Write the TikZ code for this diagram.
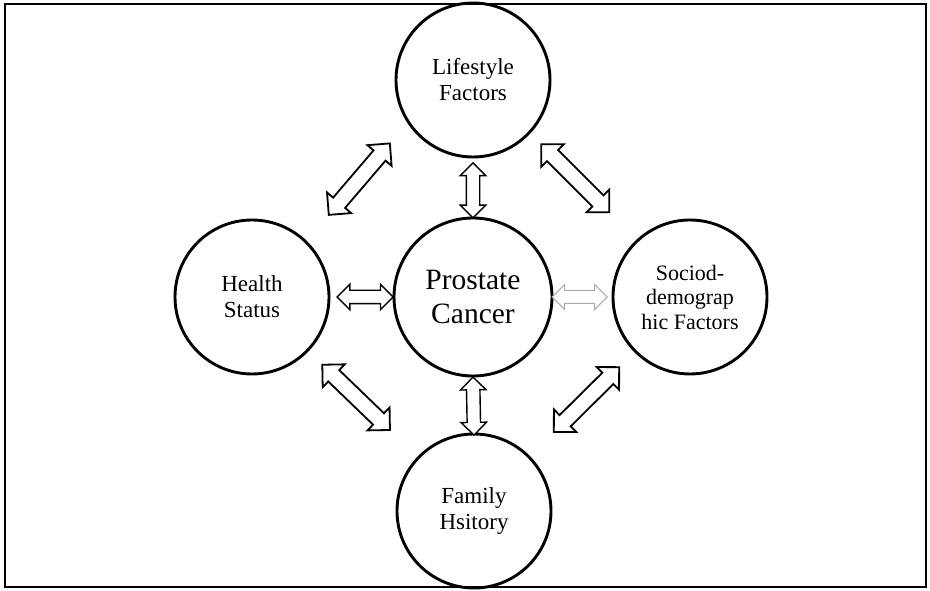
\documentclass[tikz,border=0pt]{standalone}
\usepackage{fontspec}
\setmainfont{Liberation Serif}
\usetikzlibrary{shapes.arrows,calc}
\begin{document}
\begin{tikzpicture}[x=1pt,y=1pt,
  factor/.style={circle,draw,line width=2.9pt,minimum size=154pt,inner sep=0pt,align=center,
    font=\fontsize{23}{26}\selectfont},
  dblarrow/.style={double arrow,draw,fill=white,inner sep=0pt,inner ysep=6pt,
    double arrow head extend=6pt,double arrow tip angle=90,minimum width=1pt,line width=1.4pt},
  diagarrow/.style={dblarrow,inner ysep=7pt,double arrow head extend=8pt,line width=1.8pt}]
\useasboundingbox (0,0) rectangle (930,591);
\node[draw,line width=1.4pt,minimum width=921pt,minimum height=583pt,inner sep=0pt] (frame) at (465.5,295.5) {};

\node[factor] (life) at (473,511) {Lifestyle\\Factors};
\node[factor,minimum size=158pt,font=\fontsize{29.5}{34}\selectfont] (prost) at (473,294) {Prostate\\Cancer};
\node[factor] (health) at (252,294) {Health\\Status};
\node[factor,font=\fontsize{22}{24.5}\selectfont] (socio) at (690,294) {Sociod-\\demograp\\hic Factors};
\node[factor] (family) at (474,80) {Family\\Hsitory};

% vertical and horizontal arrows
\path (life.south) -- (prost.north) node[pos=0.55,sloped,dblarrow,minimum height=55pt] (a-lp) {};
\path (prost.south) -- (family.north) node[pos=0.52,sloped,dblarrow,minimum height=58pt] (a-pf) {};
\path (health.east) -- (prost.west) node[pos=0.56,sloped,dblarrow,minimum height=56pt] (a-hp) {};
\path (prost.east) -- (socio.west) node[pos=0.45,sloped,dblarrow,draw=gray!65,line width=1pt,minimum height=55pt] (a-ps) {};

% diagonal arrows
\path (health) -- (life) node[pos=0.528,sloped,yshift=8.9pt,rotate=5,diagarrow,minimum height=94pt] (a-hl) {};
\path (life) -- (socio) node[pos=0.422,sloped,yshift=2.8pt,diagarrow,minimum height=96pt] (a-ls) {};
\path (health) -- (family) node[pos=0.437,sloped,diagarrow,minimum height=94pt] (a-hf) {};
\path (family) -- (socio) node[pos=0.543,sloped,diagarrow,minimum height=92pt] (a-fs) {};
\end{tikzpicture}
\end{document}
